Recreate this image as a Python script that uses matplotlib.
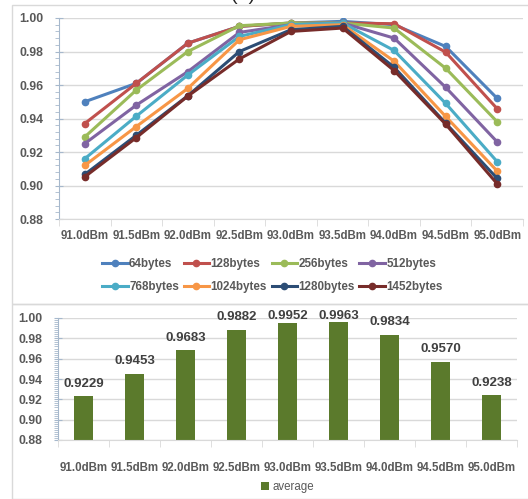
import numpy as np
import matplotlib.pyplot as plt
from matplotlib.patches import Rectangle
from matplotlib.ticker import MultipleLocator

plt.rcParams['font.family'] = ['Liberation Sans', 'DejaVu Sans']

# categories (Rx power)
power = ['91.0dBm', '91.5dBm', '92.0dBm', '92.5dBm', '93.0dBm',
         '93.5dBm', '94.0dBm', '94.5dBm', '95.0dBm']

# packet success ratio per payload size
b64 = [0.950, 0.961, 0.985, 0.995, 0.997, 0.998, 0.996, 0.983, 0.952]
b128 = [0.937, 0.961, 0.985, 0.995, 0.997, 0.997, 0.9966, 0.9796, 0.9458]
b256 = [0.929, 0.957, 0.980, 0.9954, 0.997, 0.997, 0.994, 0.970, 0.938]
b512 = [0.925, 0.948, 0.968, 0.9914, 0.996, 0.997, 0.988, 0.9586, 0.926]
b768 = [0.916, 0.9414, 0.966, 0.989, 0.996, 0.997, 0.9806, 0.949, 0.9142]
b1024 = [0.912, 0.9352, 0.958, 0.987, 0.995, 0.996, 0.9742, 0.9412, 0.9086]
b1280 = [0.9066, 0.930, 0.9536, 0.980, 0.993, 0.995, 0.9706, 0.9372, 0.9042]
b1452 = [0.9052, 0.9286, 0.9534, 0.9756, 0.992, 0.994, 0.9686, 0.9366, 0.901]

series_names = ['64bytes', '128bytes', '256bytes', '512bytes',
                '768bytes', '1024bytes', '1280bytes', '1452bytes']
series = [b64, b128, b256, b512, b768, b1024, b1280, b1452]
colors = ['#4F81BD', '#C0504D', '#9BBB59', '#8064A2',
          '#4BACC6', '#F79646', '#2C4D75', '#772C2A']

# averages (bar chart)
average = [0.9229, 0.9453, 0.9683, 0.9882, 0.9952, 0.9963, 0.9834, 0.9570, 0.9238]

W, H = 528, 499
fig = plt.figure(figsize=(W / 100, H / 100), dpi=100)
txt = '#595959'
grid_c = '#D9D9D9'
axis_c = '#A6B8CC'

def box(x0, y0, x1, y1):
    # axes rect from pixel coords (top-left origin)
    return [x0 / W, 1 - y1 / H, (x1 - x0) / W, (y1 - y0) / H]

# panel frames
for (y0, y1) in [(5, 304), (304, 499)]:
    fig.patches.append(Rectangle((12 / W, 1 - y1 / H), 1, (y1 - y0) / H,
                                 transform=fig.transFigure, fill=False,
                                 edgecolor=grid_c, lw=1))

# title is cut by the top edge in the original
fig.text(290 / W, 1 + 5 / H, '(a)  Wi-Fi  VC', ha='center', va='center',
         fontsize=14, color='#222222')

x = np.arange(len(power))

def style_axes(ax, minor, xpad):
    ax.set_ylim(0.88, 1.00)
    ax.set_xlim(-0.5, len(power) - 0.5)
    ax.yaxis.set_major_locator(MultipleLocator(0.02))
    ax.yaxis.set_minor_locator(MultipleLocator(minor))
    ax.yaxis.set_major_formatter(plt.FuncFormatter(lambda v, p: f'{v:.2f}'))
    ax.grid(axis='y', color=grid_c, lw=1)
    ax.set_axisbelow(True)
    for s in ['top', 'right']:
        ax.spines[s].set_visible(False)
    ax.spines['left'].set_color(axis_c)
    ax.spines['bottom'].set_color(grid_c)
    ax.set_xticks(x)
    ax.set_xticklabels(power)
    ax.set_xticks(np.arange(-0.5, len(power)), minor=True)
    ax.tick_params(axis='x', which='major', length=0, pad=xpad)
    ax.tick_params(axis='x', which='minor', length=5, color=grid_c, direction='out')
    ax.tick_params(axis='y', which='major', length=6, color=axis_c,
                   direction='inout', pad=8)
    ax.tick_params(axis='y', which='minor', length=3, color=axis_c)
    for lab in ax.get_xticklabels():
        lab.set_color(txt)
        lab.set_fontweight('bold')
        lab.set_fontsize(8.3)
    for lab in ax.get_yticklabels():
        lab.set_color(txt)
        lab.set_fontweight('bold')
        lab.set_fontsize(8.8)

# line chart
ax1 = fig.add_axes(box(59, 18, 523, 219))
lines = []
for name, vals, c in zip(series_names, series, colors):
    ln, = ax1.plot(x, vals, '-o', color=c, lw=2.2, ms=4.5, label=name)
    lines.append(ln)
style_axes(ax1, 0.004, 8)
# legend is filled column by column, so interleave to get row order
order = [0, 4, 1, 5, 2, 6, 3, 7]
leg = ax1.legend([lines[i] for i in order], [series_names[i] for i in order],
                 loc='upper center', bbox_to_anchor=(0.46, -0.14), ncol=4,
                 frameon=False, handlelength=2.2, handletextpad=0.1,
                 columnspacing=0.4, labelspacing=0.95,
                 prop={'size': 8.4, 'weight': 'bold'})
for t in leg.get_texts():
    t.set_color(txt)

# bar chart
ax2 = fig.add_axes(box(58, 318, 517, 440))
ax2.bar(x, average, width=0.39, color='#5B7A2C', label='average')
for xi, v in zip(x, average):
    # labels sit above the bar but stay inside the plot area
    ax2.text(xi, min(v + 0.0125, 1.0018), f'{v:.4f}', ha='center', va='center',
             fontsize=9.5, fontweight='bold', color='#404040')
style_axes(ax2, 0.002, 16)
leg2 = ax2.legend(loc='upper center', bbox_to_anchor=(0.5, -0.25), ncol=1,
                  frameon=False, handlelength=0.7, handleheight=0.7,
                  handletextpad=0.3, prop={'size': 8.3})
for t in leg2.get_texts():
    t.set_color(txt)

fig.savefig('out.png', dpi=100)
